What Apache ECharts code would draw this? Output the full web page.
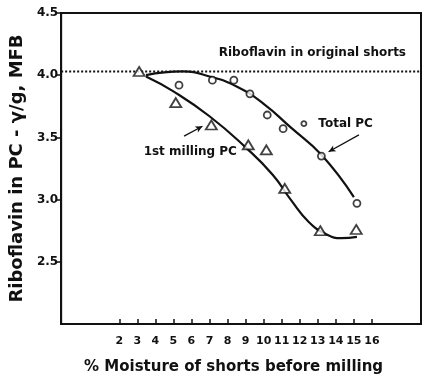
<!DOCTYPE html>
<html><head><meta charset="utf-8">
<script src="https://cdn.jsdelivr.net/npm/echarts@6/dist/echarts.min.js"></script>
<style>html,body{margin:0;padding:0;background:#fff}#c{width:426px;height:384px}</style>
</head><body><div id="c"></div>
<script>
// axis ticks / ranges
const xTickLabels = [2,3,4,5,6,7,8,9,10,11,12,13,14,15,16];
const yTickLabels = [2.5,3.0,3.5,4.0,4.5];
const xRange = [-1.22, 18.72];
const yRange = [2.0, 4.5];
// measured points
const millingX = [3.10,5.13,7.10,9.15,10.15,11.17,13.14,15.13];
const millingY = [4.03,3.78,3.60,3.44,3.40,3.09,2.75,2.76];
const totalX = [5.31,7.16,8.35,9.24,10.20,11.08,13.20,15.17];
const totalY = [3.92,3.96,3.96,3.85,3.68,3.57,3.35,2.97];
// fitted curves as drawn
const totalCurveX = [3.48,5.5,7.0,8.5,10.0,11.5,13.2,15.0];
const totalCurveY = [4.00,4.03,3.99,3.91,3.77,3.58,3.36,3.02];
const millingCurveX = [3.48,5.0,7.0,9.0,10.5,11.5,12.5,13.5,14.3,15.17];
const millingCurveY = [3.99,3.87,3.67,3.42,3.20,3.00,2.82,2.72,2.69,2.70];
// reference level
const originalShorts = 4.03;
// annotations
const noteTexts = ['Riboflavin in original shorts','Total PC','1st milling PC'];
const noteX = [7.51, 13.03, 3.35];
const noteY = [4.18, 3.61, 3.38];
const keyCircle = [12.23, 3.61];
const arrowTotal = [[15.28,3.52],[13.60,3.385]];
const arrowMilling = [[5.59,3.51],[6.61,3.59]];

const zip = (a,b)=>a.map((v,i)=>[v,b[i]]);
const ink = '#111';
const font = 'DejaVu Sans';

const chart = echarts.init(document.getElementById('c'), null, {renderer:'canvas'});
chart.setOption({
  backgroundColor:'#fff',
  animation:false,
  grid:{left:60,right:5,top:13,bottom:60,show:true,borderColor:ink,borderWidth:2,backgroundColor:'transparent'},
  xAxis:{
    type:'value', min:xRange[0], max:xRange[1],
    name:'% Moisture of shorts before milling', nameLocation:'middle', nameGap:36,
    nameTextStyle:{fontFamily:font,fontWeight:'bold',fontSize:15,color:ink,padding:[0,15,0,0]},
    axisLine:{show:true,onZero:false,lineStyle:{color:ink,width:2}},
    axisTick:{show:true,inside:true,length:5,lineStyle:{color:ink,width:1.5},customValues:xTickLabels},
    axisLabel:{show:true,margin:12,fontFamily:font,fontWeight:'bold',fontSize:11,color:ink,customValues:xTickLabels},
    splitLine:{show:false}
  },
  yAxis:{
    type:'value', min:yRange[0], max:yRange[1],
    name:'Riboflavin in PC - \u03B3/g, MFB', nameLocation:'middle', nameGap:28, nameRotate:90,
    nameTextStyle:{fontFamily:font,fontWeight:'bold',fontSize:18,color:ink},
    axisLine:{show:true,onZero:false,lineStyle:{color:ink,width:2}},
    axisTick:{show:true,length:5,lineStyle:{color:ink,width:1.5},customValues:yTickLabels},
    axisLabel:{show:true,margin:3,fontFamily:font,fontWeight:'bold',fontSize:12,color:ink,
      customValues:yTickLabels, formatter:v=>v.toFixed(1)},
    splitLine:{show:false}
  },
  series:[
    {type:'line',data:[[xRange[0],originalShorts],[xRange[1],originalShorts]],symbol:'none',
     lineStyle:{color:ink,width:2,type:[2,2]},z:1},
    {type:'line',data:zip(totalCurveX,totalCurveY),symbol:'none',smooth:0.5,
     lineStyle:{color:ink,width:2.2},z:2},
    {type:'line',data:zip(millingCurveX,millingCurveY),symbol:'none',smooth:0.5,
     lineStyle:{color:ink,width:2.2},z:2},
    {type:'scatter',data:zip(totalX,totalY),symbol:'circle',symbolSize:7,
     itemStyle:{color:'#fff',borderColor:ink,borderWidth:1.8},z:5},
    {type:'scatter',data:zip(millingX,millingY),symbol:'triangle',symbolSize:[11,9],
     itemStyle:{color:'#fff',borderColor:ink,borderWidth:1.8},z:5},
    {type:'scatter',data:[keyCircle],symbol:'circle',symbolSize:5,
     itemStyle:{color:'#fff',borderColor:ink,borderWidth:1.8},z:5},
    {type:'line',data:[],symbol:'none',
     markLine:{silent:true,symbol:['none','arrow'],symbolSize:[5,7],animation:false,
       lineStyle:{color:ink,width:1.3,type:'solid'},label:{show:false},
       data:[
         [{coord:arrowTotal[0]},{coord:arrowTotal[1]}],
         [{coord:arrowMilling[0]},{coord:arrowMilling[1]}]
       ]}}
  ]
});
chart.setOption({
  graphic: noteTexts.map((t,i)=>{
    const p = chart.convertToPixel({xAxisIndex:0,yAxisIndex:0},[noteX[i],noteY[i]]);
    return {type:'text', x:p[0], y:p[1], z:10,
      style:{text:t, fontFamily:font, fontWeight:'bold', fontSize:12, fill:ink, verticalAlign:'middle', align:'left'}};
  })
});
</script></body></html>
